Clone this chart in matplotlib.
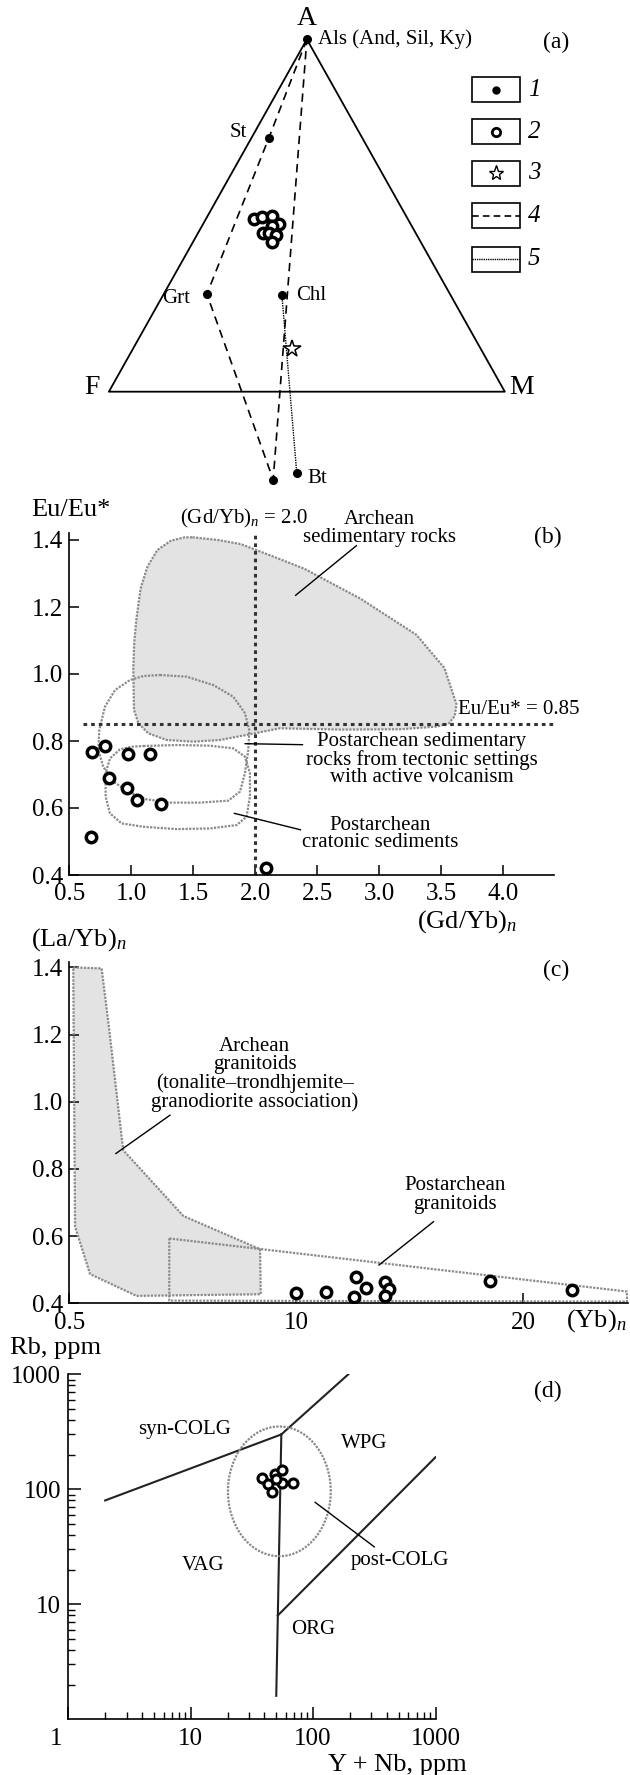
import numpy as np
import matplotlib
matplotlib.use("Agg")
from matplotlib import pyplot as plt
from matplotlib.patches import Rectangle
from matplotlib.ticker import FixedLocator, FixedFormatter, FormatStrFormatter, LogLocator, NullFormatter
from matplotlib.transforms import ScaledTranslation

plt.rcParams["font.family"] = ["Liberation Serif", "DejaVu Serif"]
plt.rcParams["mathtext.fontset"] = "custom"
plt.rcParams["mathtext.rm"] = "Liberation Serif"
plt.rcParams["mathtext.it"] = "Liberation Serif:italic"

# ---- (a) AFM projection: A and M fractions (F = 1 - A - M) ----
phase_labels = ["Als (And, Sil, Ky)", "St", "Grt", "Chl", "Bt", ""]
phase_a = [1.0, 0.720, 0.277, 0.274, -0.231, -0.250]
phase_m = [0.0, 0.044, 0.109, 0.300, 0.590, 0.540]
tie_dashed = [0, 1, 2, 5, 0]
tie_dotted = [3, 4]
rock_a = [0.490, 0.497, 0.498, 0.477, 0.471, 0.450, 0.450, 0.445, 0.426]
rock_m = [0.121, 0.137, 0.164, 0.192, 0.176, 0.165, 0.180, 0.200, 0.200]
star_a = [0.121]
star_m = [0.402]

# ---- (b) Eu/Eu* vs (Gd/Yb)n ----
gdyb = [0.681, 0.788, 0.971, 1.151, 0.823, 0.968, 1.043, 1.237, 0.673, 2.084]
eueu = [0.768, 0.786, 0.760, 0.761, 0.689, 0.661, 0.624, 0.611, 0.513, 0.420]
arch_sed_x = [1.494, 1.70, 1.881, 2.15, 2.397, 2.848, 3.300, 3.526, 3.623, 3.61, 3.56,
              3.461, 3.171, 2.687, 2.199, 1.93, 1.715, 1.5, 1.285, 1.137, 1.057, 1.022,
              1.016, 1.025, 1.042, 1.075, 1.130, 1.210, 1.320, 1.429]
arch_sed_y = [1.408, 1.400, 1.388, 1.350, 1.314, 1.225, 1.117, 1.018, 0.910, 0.875, 0.852,
              0.843, 0.835, 0.834, 0.838, 0.818, 0.803, 0.798, 0.803, 0.823, 0.853, 0.893,
              1.018, 1.100, 1.166, 1.255, 1.320, 1.370, 1.398, 1.408]
volc_x = [1.231, 1.446, 1.662, 1.823, 1.917, 1.952, 1.944, 1.917, 1.877, 1.783, 1.554,
          1.312, 1.124, 0.976, 0.855, 0.774, 0.734, 0.742, 0.788, 0.869, 0.990, 1.097]
volc_y = [0.997, 0.992, 0.967, 0.932, 0.883, 0.833, 0.773, 0.704, 0.649, 0.622, 0.616,
          0.616, 0.626, 0.649, 0.679, 0.723, 0.773, 0.833, 0.903, 0.952, 0.982, 0.994]
crat_x = [1.097, 1.366, 1.635, 1.823, 1.917, 1.957, 1.957, 1.930, 1.850, 1.635, 1.366,
          1.097, 0.922, 0.828, 0.793, 0.793, 0.828, 0.909, 1.003]
crat_y = [0.785, 0.788, 0.786, 0.778, 0.753, 0.704, 0.634, 0.574, 0.549, 0.539, 0.537,
          0.544, 0.554, 0.584, 0.634, 0.704, 0.748, 0.775, 0.783]
gdyb_limit = 2.0
eu_limit = 0.85

# ---- (c) (La/Yb)n vs (Yb)n ----
yb = [10.0, 11.30, 12.63, 13.05, 12.54, 13.91, 14.09, 13.91, 18.53, 22.13]
layb = [0.430, 0.433, 0.477, 0.447, 0.418, 0.464, 0.442, 0.423, 0.467, 0.440]
arch_gr_x = [0.17, 1.42, 1.74, 2.37, 5.02, 8.40, 8.43, 2.96, 0.91, 0.25]
arch_gr_y = [1.400, 1.397, 1.223, 0.856, 0.660, 0.561, 0.427, 0.422, 0.487, 0.628]
post_gr_x = [4.40, 24.56, 24.56, 4.40]
post_gr_y = [0.593, 0.435, 0.405, 0.408]
c_xticks = [0, 10, 20]
c_xticklabels = ["0.5", "10", "20"]

# ---- (d) Rb vs Y + Nb (Pearce et al. fields) ----
ynb = [38.0, 43.1, 45.9, 48.8, 55.4, 55.4, 68.9, 49.8]
rb = [124.6, 110.5, 95.3, 135.8, 147.0, 114.0, 114.0, 122.0]
syn_vag_x, syn_vag_y = [2, 55], [80, 300]
wpg_vag_x, wpg_vag_y = [55, 51.5, 50], [300, 8, 1.6]
org_wpg_x, org_wpg_y = [51.5, 1000], [8, 190]
syn_wpg_x, syn_wpg_y = [55, 194], [300, 1000]
post_colg_center = (53, 96)
post_colg_halfwidth = (0.42, 0.564)  # in decades

W, H = 630, 1775
fig = plt.figure(figsize=(W / 100, H / 100), dpi=100)


def px_axes(left, top, right, bottom):
    return fig.add_axes([left / W, 1 - bottom / H, (right - left) / W, (bottom - top) / H])


def fig_text(x, y, s, **kw):
    fig.text(x / W, 1 - y / H, s, **kw)


def tern(a, m):
    a = np.asarray(a, float)
    m = np.asarray(m, float)
    return m + 0.5 * a, a


def style_axes(ax, xpad=6, ypad=4.5):
    for side in ("top", "right"):
        ax.spines[side].set_visible(False)
    for side in ("left", "bottom"):
        ax.spines[side].set_linewidth(1.2)
    ax.tick_params(direction="in", length=7, width=1.1, labelsize=18)
    ax.tick_params(axis="x", pad=xpad)
    ax.tick_params(axis="y", pad=ypad)


OUTLINE = dict(color="#8a8a8a", lw=1.6, linestyle=(0, (1, 0.6)))
OPEN = dict(linestyle="none", marker="o", mfc="white", mec="black", ms=7.5, mew=2.5)
TXT = 15

# ================= (a) =================
ax = px_axes(29.7, 21.7, 623.6, 497.4)
ax.set_xlim(-0.2, 1.3)
ax.set_ylim(-0.3, 1.05)
ax.axis("off")

tx, ty = tern([1, 0, 0, 1], [0, 0, 1, 0])
ax.plot(tx, ty, color="black", lw=1.3)
for name, (a, m), off in [("A", (1, 0), (0, 15)), ("F", (0, 0), (-12, 3)), ("M", (0, 1), (12, 3))]:
    x, y = tern(a, m)
    ax.annotate(name, (x, y), xytext=off, textcoords="offset points",
                ha="center", va="center", fontsize=20)

px, py = tern(phase_a, phase_m)
ax.plot(px[tie_dashed], py[tie_dashed], color="black", lw=1.2, dashes=(5, 3.5))
ax.plot(px[tie_dotted], py[tie_dotted], color="black", lw=1.0, linestyle=(0, (1, 0.8)))
ax.plot(px, py, linestyle="none", marker="o", color="black", ms=5.5)

label_off = [(8, 0), (-16, 4), (-12, -3), (10, 0), (8, -4), (0, 0)]
label_ha = ["left", "right", "right", "left", "left", "left"]
for name, x, y, off, ha in zip(phase_labels, px, py, label_off, label_ha):
    if name:
        ax.annotate(name, (x, y), xytext=off, textcoords="offset points",
                    ha=ha, va="center", fontsize=TXT)

rx, ry = tern(rock_a, rock_m)
ax.plot(rx, ry, linestyle="none", marker="o", mfc="white", mec="black", ms=7.5, mew=2.5)
sx, sy = tern(star_a, star_m)
ax.plot(sx, sy, linestyle="none", marker="*", mfc="white", mec="black", ms=13, mew=1.1)
ax.text(1.129, 0.99, "(a)", ha="center", va="center", fontsize=17)

# legend boxes
lg = px_axes(465, 70, 560, 280)
lg.set_xlim(465, 560)
lg.set_ylim(280, 70)
lg.axis("off")
box_tops = [77.3, 119, 160.7, 203.3, 246.7]
for i, top in enumerate(box_tops):
    lg.add_patch(Rectangle((471.7, top), 48.3, 25, fill=False, ec="black", lw=1.2))
    cy = top + 12.5
    if i == 0:
        lg.plot([496], [cy], "o", color="black", ms=5)
    elif i == 1:
        lg.plot([496], [cy], "o", mfc="white", mec="black", ms=6, mew=2.0)
    elif i == 2:
        lg.plot([496], [cy], "*", mfc="white", mec="black", ms=11, mew=1.0)
    elif i == 3:
        lg.plot([472, 520], [cy, cy], color="black", lw=1.2, dashes=(4, 2.5))
    else:
        lg.plot([472, 520], [cy, cy], color="black", lw=1.0, linestyle=(0, (1, 0.6)))
    lg.text(528, cy, str(i + 1), ha="left", va="center", fontsize=18, fontstyle="italic")

# ================= (b) =================
ax = px_axes(69.3, 533.3, 554, 875)
ax.set_xlim(0.5, 4.41)
ax.set_ylim(0.4, 1.42)
style_axes(ax)
ax.set_xticks(np.arange(0.5, 4.01, 0.5))
ax.set_yticks(np.arange(0.4, 1.41, 0.2))
ax.xaxis.set_major_formatter(FormatStrFormatter("%.1f"))
ax.yaxis.set_major_formatter(FormatStrFormatter("%.1f"))

ax.fill(arch_sed_x, arch_sed_y, facecolor="#e3e3e3", edgecolor="none")
ax.plot(arch_sed_x + arch_sed_x[:1], arch_sed_y + arch_sed_y[:1], **OUTLINE)
ax.plot(volc_x + volc_x[:1], volc_y + volc_y[:1], **OUTLINE)
ax.plot(crat_x + crat_x[:1], crat_y + crat_y[:1], **OUTLINE)
ax.plot([gdyb_limit, gdyb_limit], [0.4, 1.42], color="#333333", lw=2.2, linestyle=(0, (1.2, 1.3)))
ax.plot([0.607, 4.4], [eu_limit, eu_limit], color="#333333", lw=2.2, linestyle=(0, (1.2, 1.3)))
ax.plot(gdyb, eueu, **OPEN, clip_on=False, zorder=5)

ax.text(1.909, 1.464, "(Gd/Yb)$_n$ = 2.0", ha="center", va="center", fontsize=TXT, clip_on=False)
ax.text(3.003, 1.434, "Archean\nsedimentary rocks", ha="center", va="center",
        fontsize=TXT, linespacing=0.9)
ax.text(4.36, 1.408, "(b)", ha="center", va="center", fontsize=17)
ax.text(3.639, 0.895, "Eu/Eu* = 0.85", ha="left", va="center", fontsize=TXT, clip_on=False)
ax.text(3.342, 0.744, "Postarchean sedimentary\nrocks from tectonic settings\nwith active volcanism",
        ha="center", va="center", fontsize=TXT, linespacing=0.9)
ax.text(3.01, 0.522, "Postarchean\ncratonic sediments", ha="center", va="center",
        fontsize=TXT, linespacing=0.9)
ax.plot([2.816, 2.326], [1.383, 1.235], color="black", lw=1.0)
ax.plot([1.919, 2.381], [0.792, 0.789], color="black", lw=1.0)
ax.plot([1.832, 2.365], [0.584, 0.535], color="black", lw=1.0)

fig_text(31, 510, "Eu/Eu*", ha="left", va="center", fontsize=19)
fig_text(517, 928, "(Gd/Yb)$_n$", ha="right", va="baseline", fontsize=19)

# ================= (c) =================
ax = px_axes(69.4, 961.7, 627.8, 1303.3)
ax.set_xlim(0, 24.6)
ax.set_ylim(0.4, 1.417)
style_axes(ax)
ax.xaxis.set_major_locator(FixedLocator(c_xticks))
ax.xaxis.set_major_formatter(FixedFormatter(c_xticklabels))
ax.set_yticks(np.arange(0.4, 1.41, 0.2))
ax.yaxis.set_major_formatter(FormatStrFormatter("%.1f"))

ax.fill(arch_gr_x, arch_gr_y, facecolor="#e3e3e3", edgecolor="none")
ax.plot(arch_gr_x + arch_gr_x[:1], arch_gr_y + arch_gr_y[:1], **OUTLINE)
ax.plot(post_gr_x + post_gr_x[:1], post_gr_y + post_gr_y[:1], **OUTLINE, clip_on=False)
ax.plot(yb, layb, **OPEN, zorder=5)

ax.text(8.17, 1.082, "Archean\ngranitoids\n(tonalite\u2013trondhjemite\u2013\ngranodiorite association)",
        ha="center", va="center", fontsize=TXT, linespacing=0.95)
ax.plot([4.43, 2.05], [0.96, 0.846], color="black", lw=1.0)
ax.text(17.0, 0.722, "Postarchean\ngranitoids", ha="center", va="center",
        fontsize=TXT, linespacing=0.95)
ax.plot([16.04, 13.64], [0.643, 0.514], color="black", lw=1.0)
ax.text(21.46, 1.392, "(c)", ha="center", va="center", fontsize=17)

fig_text(31, 940, "(La/Yb)$_n$", ha="left", va="center", fontsize=19)
fig_text(596, 1321, "(Yb)$_n$", ha="center", va="center", fontsize=19)

# ================= (d) =================
ax = px_axes(68.3, 1374.3, 435.5, 1719.3)
ax.set_xscale("log")
ax.set_yscale("log")
ax.set_xlim(1, 1000)
ax.set_ylim(1, 1000)
style_axes(ax, xpad=6, ypad=5)
ax.tick_params(which="major", length=9)
ax.tick_params(which="minor", direction="in", length=5, width=1.0)
ax.set_xticks([1, 10, 100, 1000])
ax.set_xticklabels(["1", "10", "100", "1000"])
ax.set_yticks([10, 100, 1000])
ax.set_yticklabels(["10", "100", "1000"])
ax.xaxis.set_minor_locator(LogLocator(subs=np.arange(2, 10)))
ax.yaxis.set_minor_locator(LogLocator(subs=np.arange(2, 10)))
ax.xaxis.set_minor_formatter(NullFormatter())
ax.yaxis.set_minor_formatter(NullFormatter())
first = ax.get_xticklabels()[0]
first.set_transform(first.get_transform() + ScaledTranslation(-0.12, 0, fig.dpi_scale_trans))

for lx, ly in [(syn_vag_x, syn_vag_y), (wpg_vag_x, wpg_vag_y),
               (org_wpg_x, org_wpg_y), (syn_wpg_x, syn_wpg_y)]:
    ax.plot(lx, ly, color="#222222", lw=1.5)

t = np.linspace(0, 2 * np.pi, 200)
ex = 10 ** (np.log10(post_colg_center[0]) + post_colg_halfwidth[0] * np.cos(t))
ey = 10 ** (np.log10(post_colg_center[1]) + post_colg_halfwidth[1] * np.sin(t))
ax.plot(ex, ey, color="#8a8a8a", lw=1.6, linestyle=(0, (1, 0.6)))
ax.plot(ynb, rb, linestyle="none", marker="o", mfc="white", mec="black", ms=6.5, mew=2.2, zorder=5)

for s, x, y in [("syn-COLG", 8.9, 334), ("WPG", 260, 248), ("VAG", 12.7, 21.6),
                ("post-COLG", 511, 24.2), ("ORG", 100.4, 6.0)]:
    ax.text(x, y, s, ha="center", va="center", fontsize=TXT)
ax.plot([104, 316], [77, 31.6], color="black", lw=1.0)
ax.text(8300, 706, "(d)", ha="center", va="center", fontsize=17, clip_on=False)

fig_text(10, 1348, "Rb, ppm", ha="left", va="center", fontsize=19)
fig_text(467, 1765, "Y + Nb, ppm", ha="right", va="center", fontsize=19)

fig.savefig("out.png", dpi=100)
plt.close(fig)
